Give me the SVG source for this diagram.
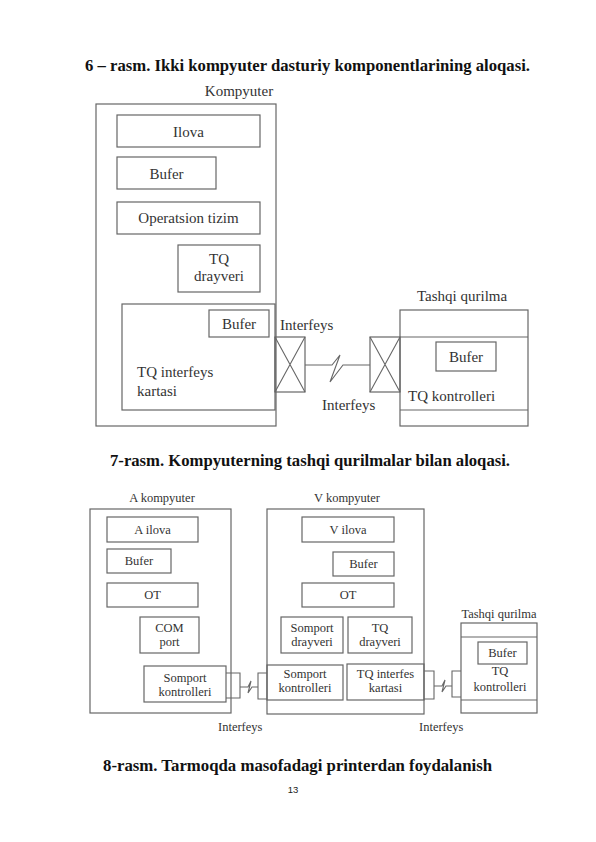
<svg xmlns="http://www.w3.org/2000/svg" width="596" height="842" viewBox="0 0 596 842">
<style>
.bx{fill:none;stroke:#666;stroke-width:1.2}
.ln{fill:none;stroke:#666;stroke-width:1.1}
.t{font-family:"Liberation Serif","Times New Roman",serif;fill:#333;font-size:15px}
.s{font-family:"Liberation Serif","Times New Roman",serif;fill:#333;font-size:12.5px}
.m{text-anchor:middle}
.h{font-family:"Liberation Serif","DejaVu Serif",serif;font-weight:bold;fill:#111;font-size:16.5px}
</style>
<rect width="596" height="842" fill="#fff"/>
<text class="h" x="85" y="71" textLength="445" lengthAdjust="spacingAndGlyphs">6 – rasm. Ikki kompyuter dasturiy komponentlarining aloqasi.</text>

<g id="kompyuter">
<text class="t" x="239" y="96" text-anchor="middle" font-size="16">Kompyuter</text>
<rect class="bx" x="96" y="104" width="180" height="322"/>
</g>
<g id="ilova"><rect class="bx" x="117" y="115" width="143" height="32"/><text class="t m" x="188.5" y="136.5">Ilova</text></g>
<g id="bufer1"><rect class="bx" x="117" y="157" width="99" height="32"/><text class="t m" x="166.5" y="178.5">Bufer</text></g>
<g id="os"><rect class="bx" x="117" y="202" width="143" height="32"/><text class="t m" x="188.5" y="223">Operatsion tizim</text></g>
<g id="tqdrayveri"><rect class="bx" x="178" y="245" width="82" height="47"/><text class="t m" x="219" y="264">TQ</text><text class="t m" x="219" y="281">drayveri</text></g>
<g id="tqkartasi"><rect class="bx" x="122" y="304" width="153" height="106"/><text class="t" x="137" y="377">TQ interfeys</text><text class="t" x="137" y="396">kartasi</text></g>
<g id="bufer2"><rect class="bx" x="209" y="310" width="60" height="27"/><text class="t m" x="239" y="329">Bufer</text></g>

<g id="tashqi1">
<text class="t" x="417" y="301">Tashqi qurilma</text>
<rect class="bx" x="400" y="310" width="128" height="116"/>
<line class="ln" x1="400" y1="337" x2="528" y2="337"/>
<line class="ln" x1="400" y1="410" x2="528" y2="410"/>
<text class="t" x="408" y="401">TQ kontrolleri</text>
</g>
<g id="bufer3"><rect class="bx" x="436" y="342" width="60" height="29"/><text class="t m" x="466" y="362">Bufer</text></g>

<g id="connectors1">
<rect class="bx" x="275" y="337" width="30" height="55"/>
<path class="ln" d="M275 337L305 392M305 337L275 392"/>
<rect class="bx" x="370" y="337" width="30" height="55"/>
<path class="ln" d="M370 337L400 392M400 337L370 392"/>
<polyline class="ln" points="305,365 332,365 340,355 330,382 343,365 370,365"/>
<text class="t" x="280" y="330">Interfeys</text>
<text class="t" x="322" y="410">Interfeys</text>
</g>

<text class="h" x="110" y="466" textLength="400" lengthAdjust="spacingAndGlyphs">7-rasm. Kompyuterning tashqi qurilmalar bilan aloqasi.</text>

<g id="akomp"><text class="s m" x="162" y="502">A kompyuter</text><rect class="bx" x="90" y="509" width="141" height="204"/></g>
<g id="ailova"><rect class="bx" x="107" y="517" width="91" height="25"/><text class="s m" x="152.5" y="533.5">A ilova</text></g>
<g id="abufer"><rect class="bx" x="107" y="549" width="64" height="24"/><text class="s m" x="139" y="565">Bufer</text></g>
<g id="aot"><rect class="bx" x="107" y="583" width="91" height="24"/><text class="s m" x="152.5" y="599">OT</text></g>
<g id="comport"><rect class="bx" x="140" y="617" width="59" height="36"/><text class="s m" x="169.5" y="632">COM</text><text class="s m" x="169.5" y="646">port</text></g>
<g id="asomport"><rect class="bx" x="144" y="666" width="82" height="36"/><text class="s m" x="185" y="682">Somport</text><text class="s m" x="185" y="696">kontrolleri</text></g>

<g id="vkomp"><text class="s m" x="347" y="502">V kompyuter</text><rect class="bx" x="267" y="509" width="157" height="205"/></g>
<g id="vilova"><rect class="bx" x="302" y="517" width="92" height="25"/><text class="s m" x="348" y="533.5">V ilova</text></g>
<g id="vbufer"><rect class="bx" x="333" y="552" width="61" height="24"/><text class="s m" x="363.5" y="568">Bufer</text></g>
<g id="vot"><rect class="bx" x="302" y="583" width="92" height="24"/><text class="s m" x="348" y="599">OT</text></g>
<g id="somdrayveri"><rect class="bx" x="281" y="617" width="62" height="36"/><text class="s m" x="312" y="632">Somport</text><text class="s m" x="312" y="646">drayveri</text></g>
<g id="vtqdrayveri"><rect class="bx" x="348" y="617" width="64" height="36"/><text class="s m" x="380" y="632">TQ</text><text class="s m" x="380" y="646">drayveri</text></g>
<g id="vsomport"><rect class="bx" x="267" y="665" width="76" height="35"/><text class="s m" x="305" y="678">Somport</text><text class="s m" x="305" y="692">kontrolleri</text></g>
<g id="tqinterfes"><rect class="bx" x="347" y="664" width="77" height="36"/><text class="s m" x="385.5" y="678">TQ interfes</text><text class="s m" x="385.5" y="692">kartasi</text></g>

<g id="tashqi2">
<text class="s m" x="499" y="618">Tashqi qurilma</text>
<rect class="bx" x="461" y="623" width="76" height="90"/>
<line class="ln" x1="461" y1="637" x2="537" y2="637"/>
<line class="ln" x1="461" y1="700" x2="537" y2="700"/>
<text class="s m" x="500" y="675">TQ</text>
<text class="s m" x="500" y="691">kontrolleri</text>
</g>
<g id="tbufer"><rect class="bx" x="478" y="642" width="49" height="22"/><text class="s m" x="502.5" y="657">Bufer</text></g>

<g id="connectors2">
<polyline class="ln" points="226,673 240,673 240,698 226,698"/>
<polyline class="ln" points="267,673 258,673 258,699 267,699"/>
<polyline class="ln" points="240,687 248,687 251,681 248,693 252,687 258,687"/>
<polyline class="ln" points="424,671 434,671 434,699 424,699"/>
<polyline class="ln" points="461,671 452,671 452,697 461,697"/>
<polyline class="ln" points="434,686 442,686 445,680 442,692 446,686 452,686"/>
<text class="s" x="218" y="731">Interfeys</text>
<text class="s" x="419" y="731">Interfeys</text>
</g>

<text class="h" x="103" y="771" textLength="389" lengthAdjust="spacingAndGlyphs">8-rasm. Tarmoqda masofadagi printerdan foydalanish</text>
<text x="293" y="793" text-anchor="middle" font-family="Liberation Sans, Arial, sans-serif" font-size="9.5" fill="#222">13</text>
</svg>
